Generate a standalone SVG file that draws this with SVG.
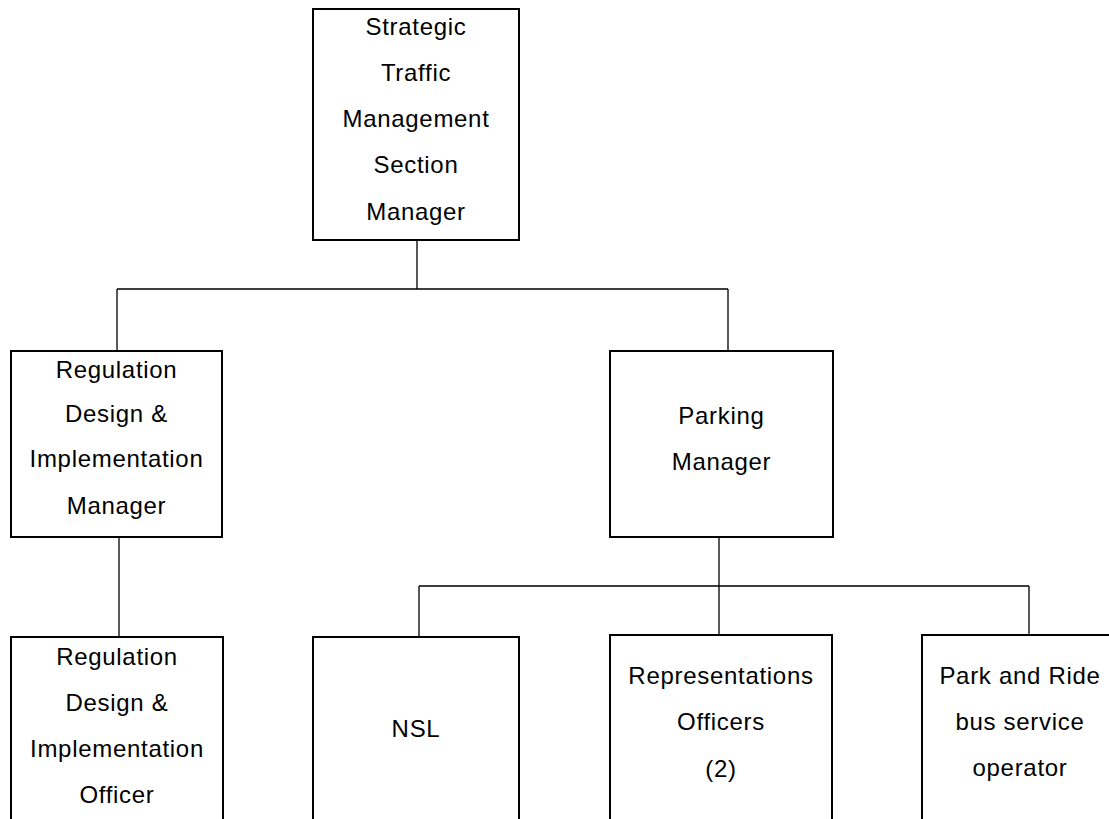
<svg xmlns="http://www.w3.org/2000/svg" width="1109" height="819" viewBox="0 0 1109 819">
<style>
.box{fill:#fff;stroke:#000;stroke-width:2}
.c{fill:none;stroke:#000;stroke-width:1.3}
text{font-family:"Liberation Sans",Arial,sans-serif;font-size:24px;letter-spacing:0.7px;fill:#000;text-anchor:middle}
</style>
<rect width="1109" height="819" fill="#fff"/>
<g id="connectors">
<path class="c" d="M417 240V289M117 289H728M117 289V351M728 289V351"/>
<path class="c" d="M119 537V637"/>
<path class="c" d="M719 537V635M419 586H1029M419 586V637M1029 586V635"/>
</g>
<g id="n-strategic">
<rect class="box" x="313" y="9" width="206" height="231"/>
<text x="416" y="35">Strategic</text>
<text x="416" y="81">Traffic</text>
<text x="416" y="127">Management</text>
<text x="416" y="173">Section</text>
<text x="416" y="220">Manager</text>
</g>
<g id="n-reg-manager">
<rect class="box" x="11" y="351" width="211" height="186"/>
<text x="116.5" y="378">Regulation</text>
<text x="116.5" y="422">Design &amp;</text>
<text x="116.5" y="467">Implementation</text>
<text x="116.5" y="514">Manager</text>
</g>
<g id="n-parking">
<rect class="box" x="610" y="351" width="223" height="186"/>
<text x="721.5" y="424">Parking</text>
<text x="721.5" y="470">Manager</text>
</g>
<g id="n-reg-officer">
<rect class="box" x="11" y="637" width="212" height="200"/>
<text x="117" y="665">Regulation</text>
<text x="117" y="711">Design &amp;</text>
<text x="117" y="757">Implementation</text>
<text x="117" y="803">Officer</text>
</g>
<g id="n-nsl">
<rect class="box" x="313" y="637" width="206" height="200"/>
<text x="416" y="737">NSL</text>
</g>
<g id="n-representations">
<rect class="box" x="610" y="635" width="222" height="200"/>
<text x="721" y="684">Representations</text>
<text x="721" y="730">Officers</text>
<text x="721" y="777">(2)</text>
</g>
<g id="n-parkride">
<rect class="box" x="922" y="635" width="200" height="200"/>
<text x="1020" y="684">Park and Ride</text>
<text x="1020" y="730">bus service</text>
<text x="1020" y="776">operator</text>
</g>
</svg>
